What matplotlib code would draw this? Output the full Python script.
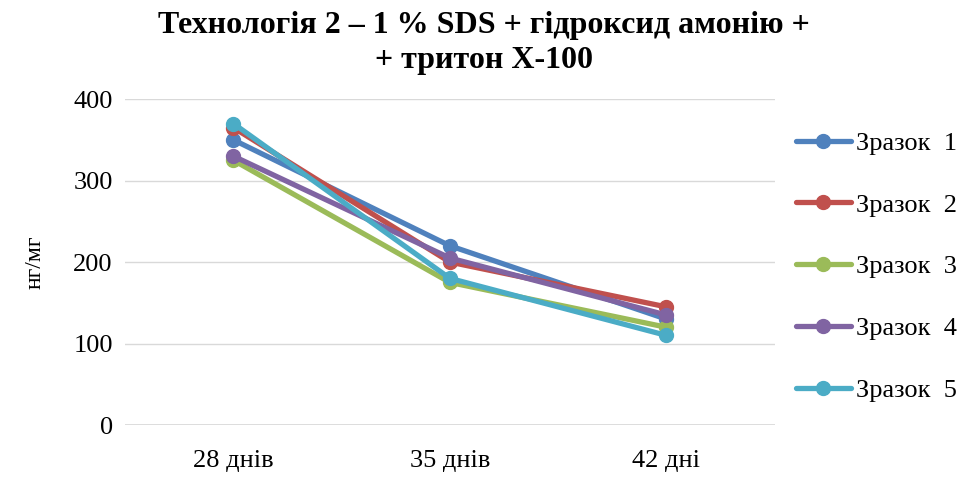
import matplotlib
matplotlib.use("Agg")
import matplotlib.pyplot as plt

categories = ["28 днів", "35 днів", "42 дні"]
series_names = ["Зразок  1", "Зразок  2", "Зразок  3", "Зразок  4", "Зразок  5"]
zrazok_1 = [350, 220, 130]
zrazok_2 = [365, 200, 145]
zrazok_3 = [325, 175, 120]
zrazok_4 = [330, 205, 135]
zrazok_5 = [370, 180, 110]
y_ticks = [0, 100, 200, 300, 400]

colors = ["#4f81bd", "#c0504d", "#9bbb59", "#8064a2", "#4bacc6"]
values = [zrazok_1, zrazok_2, zrazok_3, zrazok_4, zrazok_5]

plt.rcParams["font.family"] = ["Liberation Serif", "DejaVu Serif"]

fig = plt.figure(figsize=(9.78, 4.86), dpi=100)
ax = fig.add_axes([0.128, 0.1255, 0.664, 0.6705])

x = list(range(len(categories)))
for name, vals, c in zip(series_names, values, colors):
    ax.plot(x, vals, color=c, lw=3.8, marker="o", ms=10, label=name,
            solid_capstyle="round")

ax.set_xlim(-0.5, 2.5)
ax.set_ylim(0, 400)
ax.set_yticks(y_ticks)
ax.set_xticks(x)
ax.set_xticklabels(categories)
ax.tick_params(axis="both", length=0, labelsize=19)
ax.tick_params(axis="y", pad=9)
ax.tick_params(axis="x", pad=18)
ax.grid(axis="y", color="#d9d9d9", lw=1)
ax.set_axisbelow(True)
for s in ax.spines.values():
    s.set_visible(False)
ax.axhline(0, color="#d9d9d9", lw=1.2, zorder=0)

ax.set_ylabel("нг/мг", fontsize=17, labelpad=20)

fig.text(0.495, 0.978, "Технологія 2 – 1 % SDS + гідроксид амонію +\n+ тритон Х-100",
         ha="center", va="top", fontsize=23, fontweight="bold", linespacing=1.3)

leg = ax.legend(loc="center left", bbox_to_anchor=(1.0, 0.486), frameon=False,
                fontsize=19, handlelength=2.1, handletextpad=0.2,
                labelspacing=1.45, borderaxespad=0.4)

fig.savefig("out.png", dpi=100)
